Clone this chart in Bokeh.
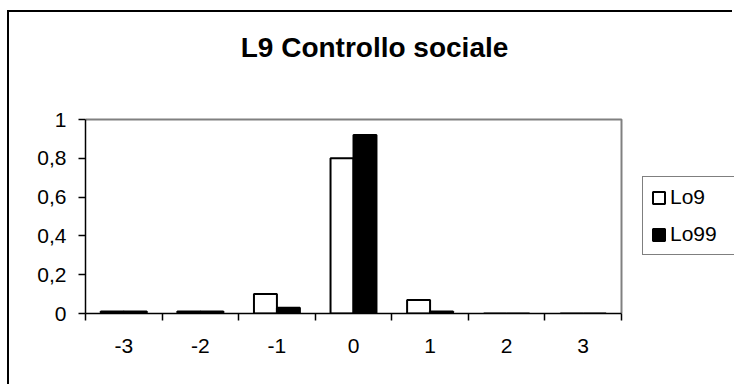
from bokeh.plotting import figure
from bokeh.models import FixedTicker, Legend, LegendItem, Label, ColumnDataSource
from bokeh.embed import file_html
from bokeh.resources import INLINE

# Response categories and the share of each series in every category
categories = ["-3", "-2", "-1", "0", "1", "2", "3"]
lo9 = [0.01, 0.01, 0.10, 0.80, 0.07, 0.0, 0.0]
lo99 = [0.01, 0.01, 0.03, 0.92, 0.01, 0.0, 0.0]
y_ticks = [0, 0.2, 0.4, 0.6, 0.8, 1.0]
y_tick_labels = ["0", "0,2", "0,4", "0,6", "0,8", "1"]
series_names = ["Lo9", "Lo99"]
title_text = "L9 Controllo sociale"

FONT = "Liberation Sans"

n = len(categories)
y_max = 1.0
centers = [i + 0.5 for i in range(n)]
bounds = list(range(n + 1))
bar_w = 0.3

# The frame spans the whole canvas to the right and top so that the title
# and the legend can sit inside it; the plot area itself is 0..n x 0..1.
FIG_W, FIG_H = 725, 374
LEFT, BOTTOM = 76, 73
AREA_W, AREA_H = 536, 194
x_end = n * (FIG_W - LEFT) / AREA_W
y_end = y_max * (FIG_H - BOTTOM) / AREA_H

src = ColumnDataSource(dict(
    x9=[c - bar_w / 2 for c in centers],
    x99=[c + bar_w / 2 for c in centers],
    lo9=lo9,
    lo99=lo99,
))

p = figure(
    width=FIG_W, height=FIG_H,
    x_range=(0, x_end), y_range=(0, y_end),
    output_backend="svg", toolbar_location=None,
    min_border_left=LEFT, min_border_right=0,
    min_border_top=0, min_border_bottom=BOTTOM,
)
p.title.visible = False
p.styles = {
    "margin-left": "7px", "margin-top": "10px",
    "border-left": "2px solid black", "border-top": "2px solid black",
}
p.background_fill_color = "white"
p.border_fill_color = "white"
p.outline_line_color = None
p.xgrid.visible = False
p.ygrid.visible = False

# grey top and right edges of the plot area
p.line(x=[0, n, n], y=[y_max, y_max, 0], line_color="#808080", line_width=2)

r9 = p.vbar(x="x9", top="lo9", bottom=0, width=bar_w, source=src,
            fill_color="white", line_color="black", line_width=2)
r99 = p.vbar(x="x99", top="lo99", bottom=0, width=bar_w, source=src,
             fill_color="black", line_color="black", line_width=2)

# x axis: labels at category centres, tick marks at category boundaries
xa = p.xaxis[0]
xa.bounds = (0, n)
xa.ticker = FixedTicker(ticks=centers, minor_ticks=bounds)
xa.major_label_overrides = {c: lab for c, lab in zip(centers, categories)}
xa.major_tick_out = 0
xa.major_tick_in = 0
xa.minor_tick_out = 7
xa.minor_tick_in = 0
xa.minor_tick_line_color = "black"
xa.minor_tick_line_width = 1.5
xa.axis_line_color = "black"
xa.axis_line_width = 1.5
xa.major_label_standoff = 18
xa.major_label_text_font = FONT
xa.major_label_text_font_size = "21px"
xa.major_label_text_color = "black"

ya = p.yaxis[0]
ya.bounds = (0, y_max)
ya.ticker = FixedTicker(ticks=y_ticks, minor_ticks=[])
ya.major_label_overrides = {t: lab for t, lab in zip(y_ticks, y_tick_labels)}
ya.major_tick_out = 7
ya.major_tick_in = 0
ya.major_tick_line_color = "black"
ya.major_tick_line_width = 1.5
ya.minor_tick_out = 0
ya.minor_tick_in = 0
ya.axis_line_color = "black"
ya.axis_line_width = 1.5
ya.major_label_standoff = 12
ya.major_label_text_font = FONT
ya.major_label_text_font_size = "21px"
ya.major_label_text_color = "black"

title = Label(
    x=289, y=266, x_units="screen", y_units="screen",
    text=title_text, text_align="center", text_baseline="alphabetic",
    text_font=FONT, text_font_style="bold", text_font_size="28px",
    text_color="black",
)
p.add_layout(title)

legend = Legend(
    items=[LegendItem(label=series_names[0], renderers=[r9]),
           LegendItem(label=series_names[1], renderers=[r99])],
    location=(557, 58),
    border_line_color="black", border_line_width=1,
    background_fill_color="white", background_fill_alpha=1,
    glyph_width=15, glyph_height=15,
    label_text_font=FONT, label_text_font_size="21px",
    label_text_color="black",
    label_standoff=4, label_width=80,
    padding=8, spacing=13, margin=0,
)
p.add_layout(legend)

open("out.html", "w").write(file_html(p, INLINE))
